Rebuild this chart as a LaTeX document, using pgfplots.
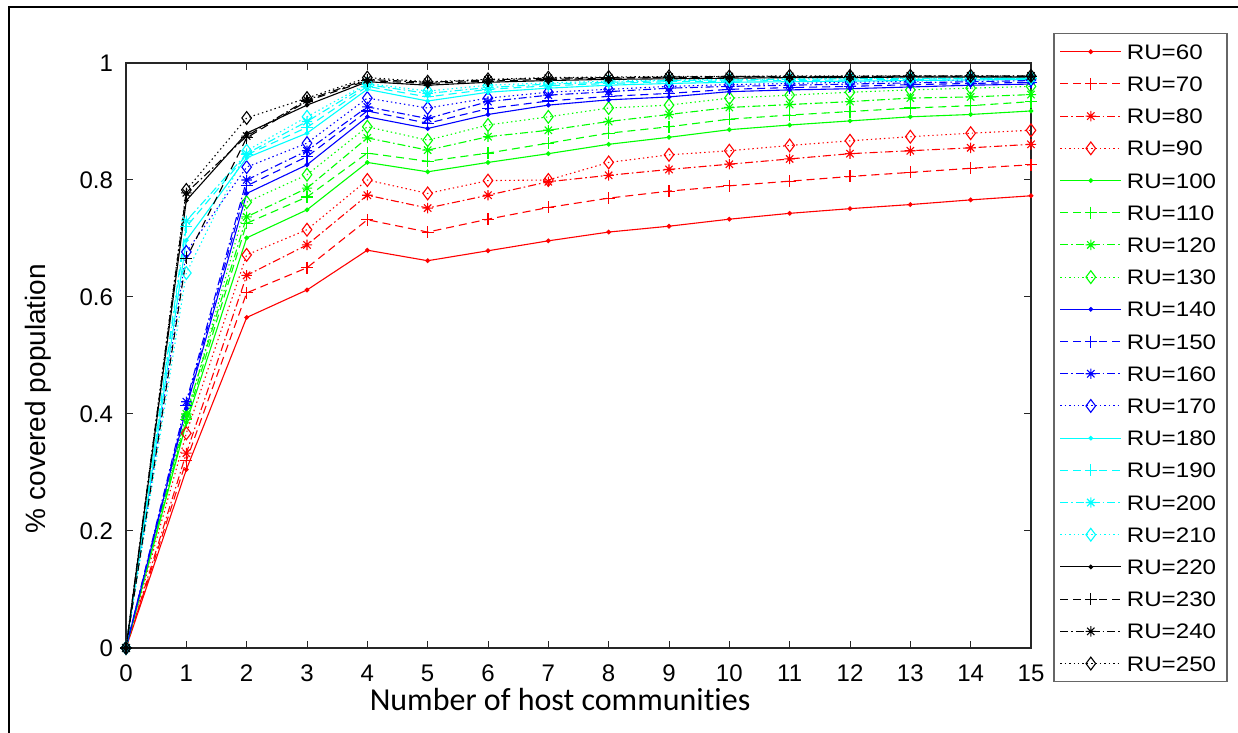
\documentclass[border=0pt]{standalone}
\usepackage{fontspec}
\setmainfont{Liberation Sans}
\newfontfamily\legfont[FakeStretch=1.15]{Liberation Sans}
\newfontfamily\calfont[Ligatures=NoCommon]{Carlito}
\usepackage{pgfplots}
\usepackage{pgfplotstable}
\pgfplotsset{compat=1.18}
\definecolor{mred}{rgb}{1,0,0}
\definecolor{mgreen}{rgb}{0,1,0}
\definecolor{mblue}{rgb}{0,0,1}
\definecolor{mcyan}{rgb}{0,1,1}

\pgfdeclareplotmark{mstar}{%
  \pgfpathmoveto{\pgfqpoint{0pt}{\pgfplotmarksize}}\pgfpathlineto{\pgfqpoint{0pt}{-\pgfplotmarksize}}%
  \pgfpathmoveto{\pgfqpoint{\pgfplotmarksize}{0pt}}\pgfpathlineto{\pgfqpoint{-\pgfplotmarksize}{0pt}}%
  \pgfpathmoveto{\pgfqpoint{.707\pgfplotmarksize}{.707\pgfplotmarksize}}\pgfpathlineto{\pgfqpoint{-.707\pgfplotmarksize}{-.707\pgfplotmarksize}}%
  \pgfpathmoveto{\pgfqpoint{-.707\pgfplotmarksize}{.707\pgfplotmarksize}}\pgfpathlineto{\pgfqpoint{.707\pgfplotmarksize}{-.707\pgfplotmarksize}}%
  \pgfusepathqstroke}

\pgfplotsset{
  s1/.style={line width=0.55pt, solid, mark=*, mark size=0.9pt},
  s2/.style={line width=0.55pt, dash pattern=on 4pt off 2.5pt, mark=+, mark size=3pt, mark options={solid}},
  s3/.style={line width=0.55pt, dash pattern=on 4pt off 1.5pt on 0.8pt off 1.5pt, mark=mstar, mark size=2.6pt, mark options={solid}},
  s4/.style={line width=0.55pt, dash pattern=on 0.7pt off 1.5pt, mark=diamond, mark size=3.2pt, mark options={solid}},
}

\pgfplotstableread{
x r60 r70 r80 r90 r100 r110 r120 r130 r140 r150 r160 r170 r180 r190 r200 r210 r220 r230 r240 r250
0 0 0 0 0 0 0 0 0 0 0 0 0 0 0 0 0 0 0 0 0
1 0.305 0.32 0.333 0.367 0.385 0.390 0.400 0.395 0.410 0.415 0.421 0.677 0.697 0.720 0.730 0.641 0.765 0.666 0.778 0.783
2 0.565 0.607 0.637 0.672 0.701 0.726 0.737 0.762 0.777 0.790 0.800 0.822 0.838 0.843 0.845 0.850 0.880 0.872 0.875 0.906
3 0.612 0.650 0.689 0.715 0.749 0.771 0.786 0.809 0.826 0.840 0.850 0.863 0.880 0.890 0.900 0.908 0.928 0.935 0.937 0.940
4 0.680 0.732 0.774 0.800 0.830 0.846 0.872 0.891 0.908 0.918 0.925 0.940 0.955 0.960 0.963 0.965 0.968 0.970 0.972 0.975
5 0.662 0.711 0.752 0.777 0.814 0.832 0.851 0.868 0.888 0.897 0.905 0.923 0.935 0.942 0.948 0.952 0.962 0.965 0.967 0.968
6 0.679 0.733 0.774 0.799 0.830 0.846 0.874 0.894 0.912 0.922 0.934 0.940 0.950 0.955 0.958 0.962 0.967 0.969 0.971 0.972
7 0.696 0.753 0.797 0.800 0.845 0.863 0.885 0.908 0.928 0.935 0.945 0.950 0.957 0.961 0.964 0.966 0.970 0.972 0.974 0.975
8 0.711 0.769 0.808 0.830 0.861 0.880 0.900 0.923 0.937 0.943 0.951 0.955 0.962 0.965 0.967 0.969 0.972 0.974 0.975 0.976
9 0.721 0.781 0.818 0.843 0.873 0.891 0.912 0.928 0.942 0.948 0.957 0.960 0.965 0.968 0.970 0.971 0.973 0.975 0.976 0.977
10 0.733 0.790 0.827 0.850 0.886 0.904 0.924 0.940 0.951 0.955 0.960 0.963 0.967 0.969 0.971 0.972 0.974 0.976 0.977 0.977
11 0.743 0.798 0.836 0.859 0.894 0.911 0.929 0.945 0.954 0.958 0.962 0.965 0.968 0.970 0.972 0.973 0.975 0.976 0.977 0.978
12 0.751 0.806 0.845 0.867 0.901 0.917 0.934 0.950 0.956 0.960 0.964 0.967 0.969 0.971 0.973 0.974 0.975 0.977 0.977 0.978
13 0.758 0.813 0.850 0.874 0.908 0.923 0.940 0.954 0.959 0.963 0.966 0.969 0.970 0.972 0.973 0.974 0.976 0.977 0.978 0.978
14 0.766 0.820 0.855 0.880 0.912 0.927 0.942 0.957 0.962 0.965 0.968 0.971 0.971 0.973 0.974 0.975 0.976 0.977 0.978 0.978
15 0.773 0.826 0.861 0.885 0.918 0.934 0.946 0.960 0.964 0.967 0.970 0.972 0.972 0.973 0.974 0.975 0.976 0.977 0.978 0.978
}\data

\newcommand\legtxt[1]{\makebox[47pt][l]{\rule[-2.5pt]{0pt}{11.5pt}#1}}

\begin{document}
\begin{tikzpicture}
\path[use as bounding box] (0,0) rectangle (619pt,366.5pt);
\draw[line width=1pt] (4.25pt,0) -- (4.25pt,363pt) -- (619pt,363pt);
\begin{axis}[
  at={(63pt,42.5pt)}, anchor=south west,
  width=452.5pt, height=292.5pt, scale only axis,
  xmin=0, xmax=15, ymin=0, ymax=1,
  xtick={0,...,15}, ytick={0,0.2,0.4,0.6,0.8,1},
  tick align=inside, major tick length=3.5pt,
  axis line style={black!85, line width=0.6pt},
  tick style={black!85, line width=0.5pt},
  tick label style={font=\fontsize{12}{14}\selectfont},
  /pgf/number format/assume math mode=true,
  xticklabel style={yshift=-5pt},
  yticklabel style={xshift=-3pt},
  xlabel={Number of host communities},
  xlabel style={at={(axis description cs:0.4796,-0.0889)}, anchor=center, font=\calfont\fontsize{16}{18}\selectfont},
  ylabel={\% covered population},
  ylabel style={at={(axis description cs:-0.0972,0.4265)}, anchor=center, font=\fontsize{14}{16}\selectfont},
  legend style={at={(1.0243,1.0513)}, anchor=north west, draw=black!60, line width=0.75pt,
    inner xsep=3pt, inner ysep=3.75pt, row sep=5.6pt,
    font=\legfont\fontsize{10.5}{12}\selectfont,
    nodes={inner sep=0pt},
    /tikz/every odd column/.append style={column sep=2.5pt}},
  legend cell align=left,
  legend image code/.code={\draw[mark repeat=2,mark phase=2] plot coordinates {(0pt,0pt)(15.25pt,0pt)(30.5pt,0pt)};},
]
\addplot[mred, s1] table[x=x,y=r60]{\data}; \addlegendentry{\legtxt{RU=60}}
\addplot[mred, s2] table[x=x,y=r70]{\data}; \addlegendentry{\legtxt{RU=70}}
\addplot[mred, s3] table[x=x,y=r80]{\data}; \addlegendentry{\legtxt{RU=80}}
\addplot[mred, s4] table[x=x,y=r90]{\data}; \addlegendentry{\legtxt{RU=90}}
\addplot[mgreen, s1] table[x=x,y=r100]{\data}; \addlegendentry{\legtxt{RU=100}}
\addplot[mgreen, s2] table[x=x,y=r110]{\data}; \addlegendentry{\legtxt{RU=110}}
\addplot[mgreen, s3] table[x=x,y=r120]{\data}; \addlegendentry{\legtxt{RU=120}}
\addplot[mgreen, s4] table[x=x,y=r130]{\data}; \addlegendentry{\legtxt{RU=130}}
\addplot[mblue, s1] table[x=x,y=r140]{\data}; \addlegendentry{\legtxt{RU=140}}
\addplot[mblue, s2] table[x=x,y=r150]{\data}; \addlegendentry{\legtxt{RU=150}}
\addplot[mblue, s3] table[x=x,y=r160]{\data}; \addlegendentry{\legtxt{RU=160}}
\addplot[mblue, s4] table[x=x,y=r170]{\data}; \addlegendentry{\legtxt{RU=170}}
\addplot[mcyan, s1] table[x=x,y=r180]{\data}; \addlegendentry{\legtxt{RU=180}}
\addplot[mcyan, s2] table[x=x,y=r190]{\data}; \addlegendentry{\legtxt{RU=190}}
\addplot[mcyan, s3] table[x=x,y=r200]{\data}; \addlegendentry{\legtxt{RU=200}}
\addplot[mcyan, s4] table[x=x,y=r210]{\data}; \addlegendentry{\legtxt{RU=210}}
\addplot[black, s1] table[x=x,y=r220]{\data}; \addlegendentry{\legtxt{RU=220}}
\addplot[black, s2] table[x=x,y=r230]{\data}; \addlegendentry{\legtxt{RU=230}}
\addplot[black, s3] table[x=x,y=r240]{\data}; \addlegendentry{\legtxt{RU=240}}
\addplot[black, s4] table[x=x,y=r250]{\data}; \addlegendentry{\legtxt{RU=250}}
\end{axis}
\end{tikzpicture}
\end{document}
